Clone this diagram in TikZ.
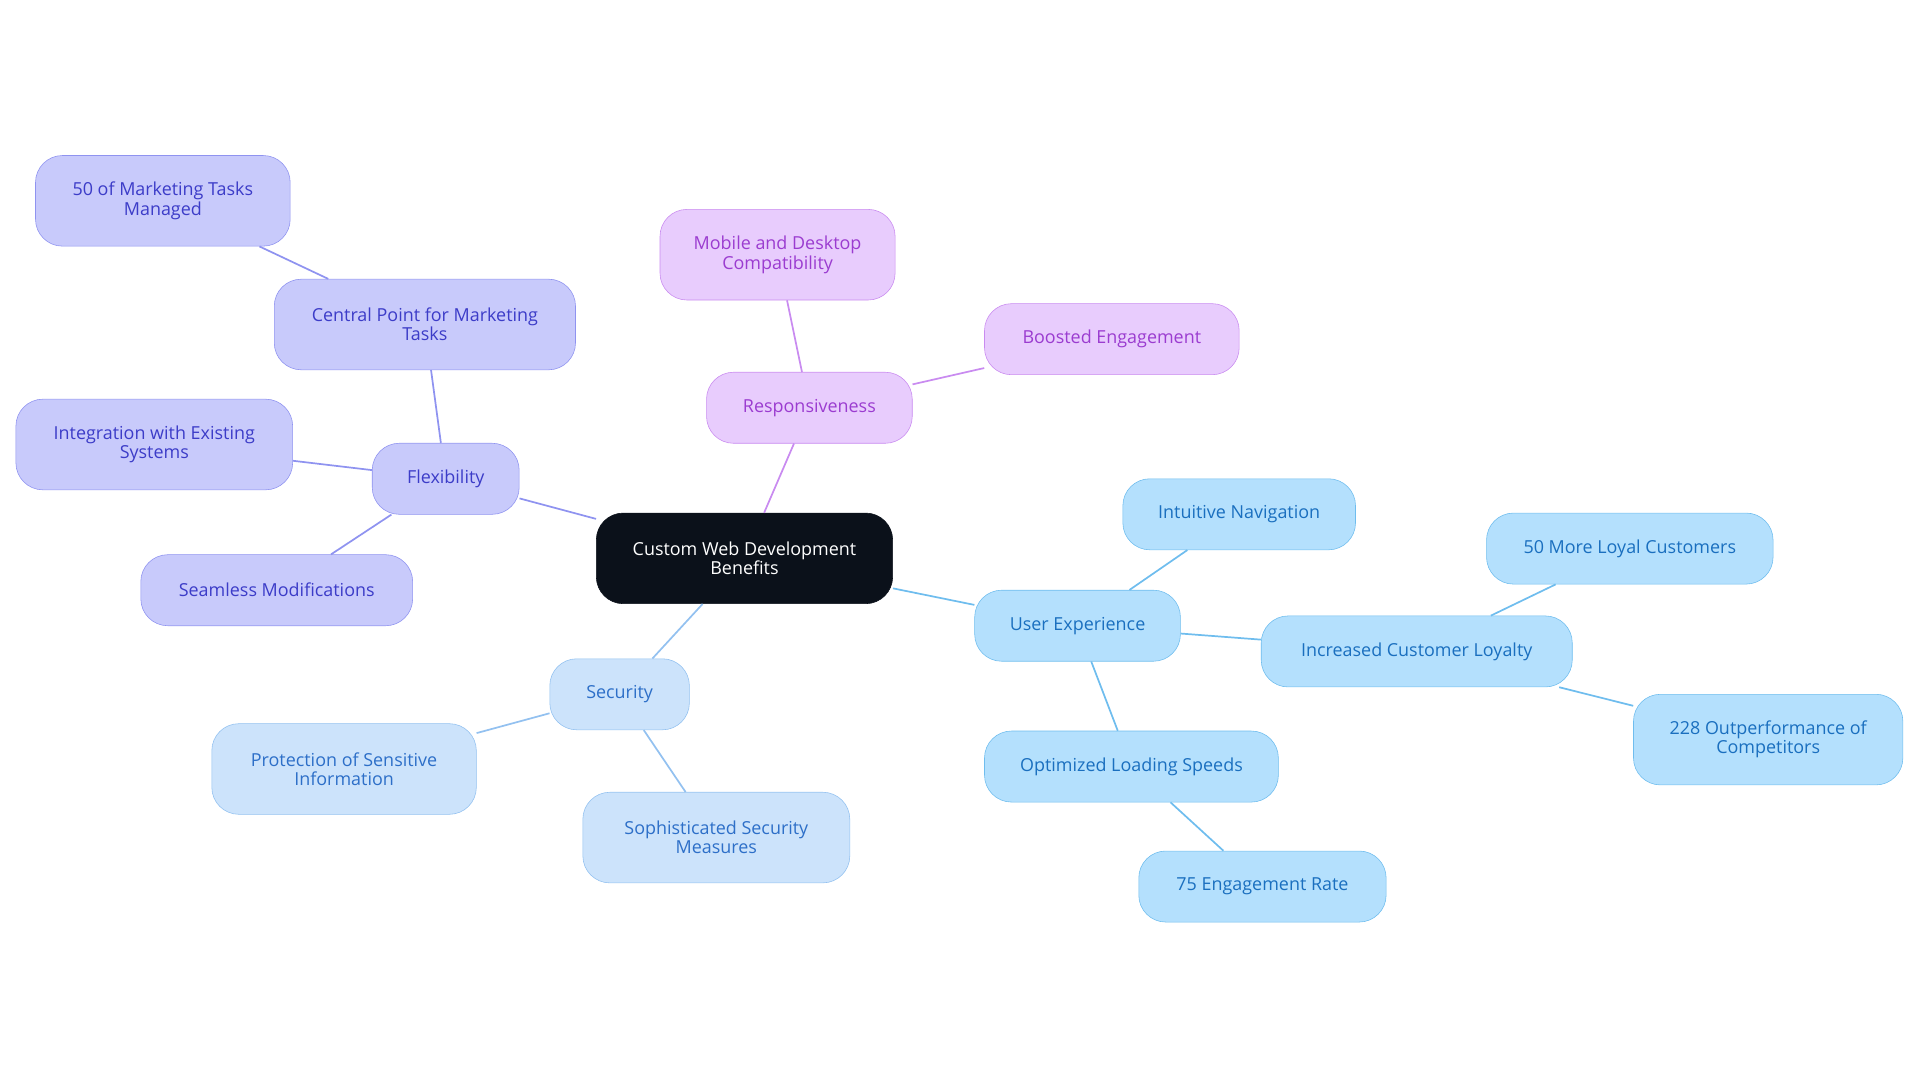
\documentclass[tikz,border=0pt]{standalone}
\usepackage{fontspec}
\setmainfont{Open Sans}
\usetikzlibrary{positioning}
\definecolor{coreF}{HTML}{0B111A}
\definecolor{flexF}{HTML}{C8CAFB}\definecolor{flexD}{HTML}{8F93F0}\definecolor{flexT}{HTML}{3C3CC8}
\definecolor{respF}{HTML}{E8CCFD}\definecolor{respD}{HTML}{C98BF0}\definecolor{respT}{HTML}{9B3CD0}
\definecolor{secF}{HTML}{CCE3FB}\definecolor{secD}{HTML}{93C1F0}\definecolor{secT}{HTML}{2D6FC8}
\definecolor{uxF}{HTML}{B4E0FD}\definecolor{uxD}{HTML}{6FBDEE}\definecolor{uxT}{HTML}{1A6FBF}
\tikzset{
  box/.style={rounded corners=0.66cm, align=center, inner sep=0pt,
    font=\fontsize{12.5}{13.5}\selectfont},
  sz/.style 2 args={minimum width=#1*0.03cm, minimum height=#2*0.03cm},
  core/.style={box, fill=coreF, draw=coreF, text=white},
  flex/.style={box, fill=flexF, draw=flexD, text=flexT},
  resp/.style={box, fill=respF, draw=respD, text=respT},
  sec/.style={box, fill=secF, draw=secD, text=secT},
  ux/.style={box, fill=uxF, draw=uxD, text=uxT},
  link/.style={line width=1.2pt}
}
\begin{document}
\begin{tikzpicture}[x=0.03cm,y=-0.03cm]
\useasboundingbox (0,0) rectangle (1568,884);
% links first
\coordinate (dummy) at (0,0);
\node[core,sz={242}{74}] (core) at (608,456) {Custom Web Development\\Benefits};
% flexibility branch
\node[flex,sz={120}{58}] (flex) at (364,391) {Flexibility};
\node[flex,sz={246}{74}] (central) at (347,265) {Central Point for Marketing\\Tasks};
\node[flex,sz={208}{74}] (tasks) at (133,164) {50 of Marketing Tasks\\Managed};
\node[flex,sz={226}{74}] (integ) at (126,363) {Integration with Existing\\Systems};
\node[flex,sz={222}{58}] (seam) at (226,482) {Seamless Modifications};
% responsiveness branch
\node[resp,sz={168}{58}] (resp) at (661,333) {Responsiveness};
\node[resp,sz={192}{74}] (mobile) at (635,208) {Mobile and Desktop\\Compatibility};
\node[resp,sz={208}{58}] (boost) at (908,277) {Boosted Engagement};
% security branch
\node[sec,sz={114}{58}] (sec) at (506,567) {Security};
\node[sec,sz={216}{74}] (protect) at (281,628) {Protection of Sensitive\\Information};
\node[sec,sz={218}{74}] (sophis) at (585,684) {Sophisticated Security\\Measures};
% user experience branch
\node[ux,sz={168}{58}] (ux) at (880,511) {User Experience};
\node[ux,sz={190}{58}] (nav) at (1012,420) {Intuitive Navigation};
\node[ux,sz={254}{58}] (loyal) at (1157,532) {Increased Customer Loyalty};
\node[ux,sz={234}{58}] (more) at (1331,448) {50 More Loyal Customers};
\node[ux,sz={220}{74}] (outp) at (1444,604) {228 Outperformance of\\Competitors};
\node[ux,sz={240}{58}] (speed) at (924,626) {Optimized Loading Speeds};
\node[ux,sz={202}{58}] (rate) at (1031,724) {75 Engagement Rate};
\begin{scope}[on background layer/.style={}]
\draw[link,flexD] (core) -- (flex);
\draw[link,flexD] (flex) -- (central);
\draw[link,flexD] (central) -- (tasks);
\draw[link,flexD] (flex) -- (integ);
\draw[link,flexD] (flex) -- (seam);
\draw[link,respD] (core) -- (resp);
\draw[link,respD] (resp) -- (mobile);
\draw[link,respD] (resp) -- (boost);
\draw[link,secD] (core) -- (sec);
\draw[link,secD] (sec) -- (protect);
\draw[link,secD] (sec) -- (sophis);
\draw[link,uxD] (core) -- (ux);
\draw[link,uxD] (ux) -- (nav);
\draw[link,uxD] (ux) -- (loyal);
\draw[link,uxD] (loyal) -- (more);
\draw[link,uxD] (loyal) -- (outp);
\draw[link,uxD] (ux) -- (speed);
\draw[link,uxD] (speed) -- (rate);
\end{scope}
\end{tikzpicture}
\end{document}
